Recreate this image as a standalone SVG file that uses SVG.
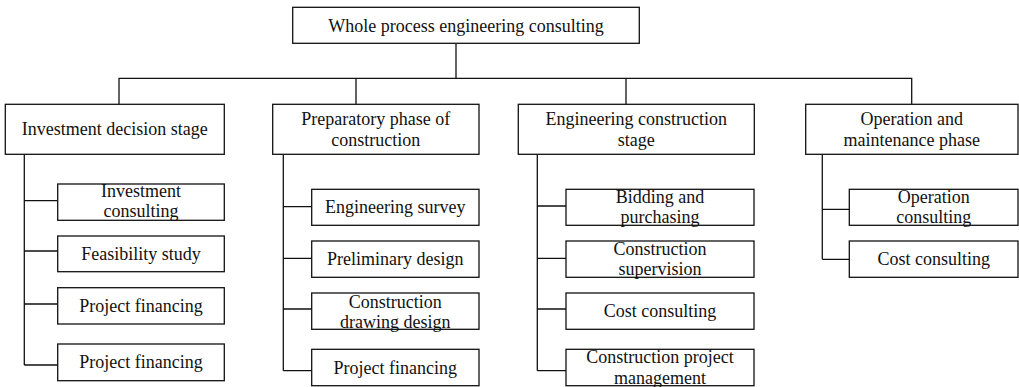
<svg xmlns="http://www.w3.org/2000/svg" width="1019" height="387" viewBox="0 0 1019 387">
<style>
rect{fill:#fff;stroke:#111;stroke-width:1.3}
text{font-family:"Liberation Serif","Times New Roman",serif;font-size:18px;fill:#111;text-anchor:middle}
#connectors path{fill:none;stroke:#111;stroke-width:1.3}
</style>
<rect x="0" y="0" width="1019" height="387" style="stroke:none"/>
<g id="connectors">
<path d="M456 43.3V78.3M119 104.3V78.3H911.7V104.3M356 78.3V104.3M626 78.3V104.3"/>
<path d="M24.3 154.3V365M24.3 200.7H57.7M24.3 251H57.7M24.3 304H57.7M24.3 365H57.7"/>
<path d="M283.3 154.3V370.7M283.3 206.7H311.7M283.3 258.3H311.7M283.3 309H311.7M283.3 370.7H311.7"/>
<path d="M537.3 154.3V370.7M537.3 206H566M537.3 258.3H566M537.3 309H566M537.3 370.7H566"/>
<path d="M822.3 154.3V259.3M822.3 209.3H849.3M822.3 259.3H849.3"/>
</g>
<g id="root"><rect x="292.7" y="7.3" width="346.6" height="36"/><text x="466" y="31.5">Whole process engineering consulting</text></g>
<g id="stage1"><rect x="5.3" y="104.3" width="219" height="50"/><text x="114.8" y="135.3">Investment decision stage</text></g>
<g id="stage2"><rect x="272.7" y="104.3" width="206.3" height="50"/><text x="375.8" y="125"><tspan x="375.8">Preparatory phase of</tspan><tspan x="375.8" dy="20.6">construction</tspan></text></g>
<g id="stage3"><rect x="518.3" y="104.3" width="236" height="50"/><text x="636.3" y="125"><tspan x="636.3">Engineering construction</tspan><tspan x="636.3" dy="20.6">stage</tspan></text></g>
<g id="stage4"><rect x="805.7" y="104.3" width="212.3" height="50"/><text x="911.8" y="125"><tspan x="911.8">Operation and</tspan><tspan x="911.8" dy="20.6">maintenance phase</tspan></text></g>

<g id="s1a"><rect x="57.7" y="184" width="166.6" height="36.3"/><text x="141" y="196.7"><tspan x="141">Investment</tspan><tspan x="141" dy="20.6">consulting</tspan></text></g>
<g id="s1b"><rect x="57.7" y="236" width="166.6" height="35.7"/><text x="141" y="260">Feasibility study</text></g>
<g id="s1c"><rect x="57.7" y="287.7" width="166.6" height="36.3"/><text x="141" y="312">Project financing</text></g>
<g id="s1d"><rect x="57.7" y="344" width="166.6" height="36.7"/><text x="141" y="368.3">Project financing</text></g>

<g id="s2a"><rect x="311.7" y="189.3" width="167.3" height="36"/><text x="395.3" y="213.3">Engineering survey</text></g>
<g id="s2b"><rect x="311.7" y="241" width="167.3" height="36.3"/><text x="395.3" y="265.2">Preliminary design</text></g>
<g id="s2c"><rect x="311.7" y="293" width="167.3" height="36.3"/><text x="395.3" y="307.5"><tspan x="395.3">Construction</tspan><tspan x="395.3" dy="20.6">drawing design</tspan></text></g>
<g id="s2d"><rect x="311.7" y="349.3" width="167.3" height="36.4"/><text x="395.3" y="373.6">Project financing</text></g>

<g id="s3a"><rect x="566" y="189.3" width="188" height="36"/><text x="660" y="202.7"><tspan x="660">Bidding and</tspan><tspan x="660" dy="20.6">purchasing</tspan></text></g>
<g id="s3b"><rect x="566" y="241" width="188" height="36.3"/><text x="660" y="254.5"><tspan x="660">Construction</tspan><tspan x="660" dy="20.6">supervision</tspan></text></g>
<g id="s3c"><rect x="566" y="293" width="188" height="36.3"/><text x="660" y="317.2">Cost consulting</text></g>
<g id="s3d"><rect x="566" y="349.3" width="188" height="36.4"/><text x="660" y="363"><tspan x="660">Construction project</tspan><tspan x="660" dy="20.6">management</tspan></text></g>

<g id="s4a"><rect x="849.3" y="189.3" width="168.7" height="36"/><text x="933.7" y="202.7"><tspan x="933.7">Operation</tspan><tspan x="933.7" dy="20.6">consulting</tspan></text></g>
<g id="s4b"><rect x="849.3" y="241" width="168.7" height="36.3"/><text x="933.7" y="265.2">Cost consulting</text></g>
</svg>
